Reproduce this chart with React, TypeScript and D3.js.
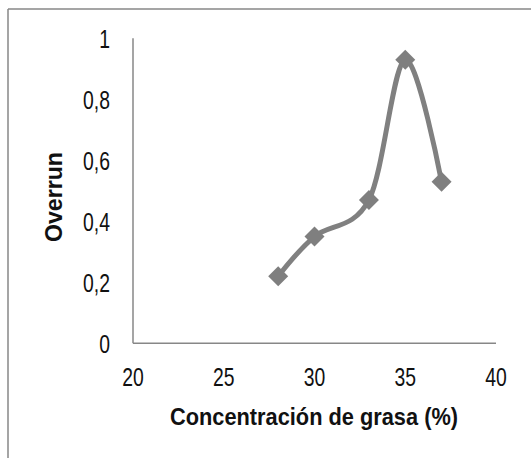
import React, { useEffect, useRef } from "react";
import * as d3 from "d3";

// Fat concentration (%) and measured overrun
const fatConcentration = [28, 30, 33, 35, 37];
const overrun = [0.22, 0.35, 0.47, 0.93, 0.53];

const xTicks = [20, 25, 30, 35, 40];
const yTicks = [0, 0.2, 0.4, 0.6, 0.8, 1];

const xTitle = "Concentración de grasa (%)";
const yTitle = "Overrun";

const W = 531;
const H = 458;

export default function App() {
  const ref = useRef<SVGSVGElement | null>(null);

  useEffect(() => {
    const svg = d3.select(ref.current);
    svg.selectAll("*").remove();

    const gray = "#878787";
    const font = "'Liberation Sans', Arial, sans-serif";

    const x = d3.scaleLinear().domain([20, 40]).range([133, 496]);
    const y = d3.scaleLinear().domain([0, 1]).range([343.3, 38.3]);

    // frame (left and top edges)
    svg.append("line").attr("x1", 8).attr("x2", 8).attr("y1", 9).attr("y2", H)
      .attr("stroke", gray).attr("stroke-width", 1.5);
    svg.append("line").attr("x1", 8).attr("x2", W).attr("y1", 9).attr("y2", 9)
      .attr("stroke", gray).attr("stroke-width", 1.5);

    // axes
    svg.append("line").attr("x1", x(20)).attr("x2", x(20)).attr("y1", y(1)).attr("y2", y(0))
      .attr("stroke", gray).attr("stroke-width", 1.5);
    svg.append("line").attr("x1", x(20)).attr("x2", x(40)).attr("y1", y(0)).attr("y2", y(0))
      .attr("stroke", gray).attr("stroke-width", 1.5);

    const fmt = (v: number) => String(v).replace(".", ",");

    // tick labels: condensed, tall digits
    svg.append("g").selectAll("text").data(yTicks).join("text")
      .attr("transform", (d) => `translate(110,${y(d) + 9.5}) scale(0.86,1.18)`)
      .attr("text-anchor", "end")
      .attr("font-family", font).attr("font-size", 22.5)
      .attr("fill", "#111")
      .text(fmt);

    svg.append("g").selectAll("text").data(xTicks).join("text")
      .attr("transform", (d) => `translate(${x(d)},386) scale(0.86,1.18)`)
      .attr("text-anchor", "middle")
      .attr("font-family", font).attr("font-size", 22.5)
      .attr("fill", "#111")
      .text(fmt);

    svg.append("text")
      .attr("transform", "translate(314,425) scale(0.9,1.15)")
      .attr("text-anchor", "middle")
      .attr("font-family", font).attr("font-size", 21.5).attr("font-weight", "bold")
      .attr("fill", "#111")
      .attr("textLength", 320).attr("lengthAdjust", "spacingAndGlyphs")
      .text(xTitle);

    svg.append("text")
      .attr("transform", "translate(62,197) rotate(-90) scale(0.9,1.1)")
      .attr("text-anchor", "middle")
      .attr("font-family", font).attr("font-size", 21.5).attr("font-weight", "bold")
      .attr("fill", "#111")
      .attr("textLength", 100).attr("lengthAdjust", "spacingAndGlyphs")
      .text(yTitle);

    const pts = fatConcentration.map((c, i) => [x(c), y(overrun[i])] as [number, number]);

    const line = d3.line().curve(d3.curveCardinal.tension(0));
    svg.append("path")
      .attr("d", line(pts))
      .attr("fill", "none")
      .attr("stroke", "#808080")
      .attr("stroke-width", 5)
      .attr("stroke-linejoin", "round");

    const s = 10;
    svg.append("g").selectAll("path").data(pts).join("path")
      .attr("d", ([px, py]) => `M${px},${py - s}L${px + s},${py}L${px},${py + s}L${px - s},${py}Z`)
      .attr("fill", "#7f7f7f");
  }, []);

  return (
    <svg ref={ref} width={W} height={H} style={{ position: "absolute", left: 0, top: 0, background: "#fff" }} />
  );
}
